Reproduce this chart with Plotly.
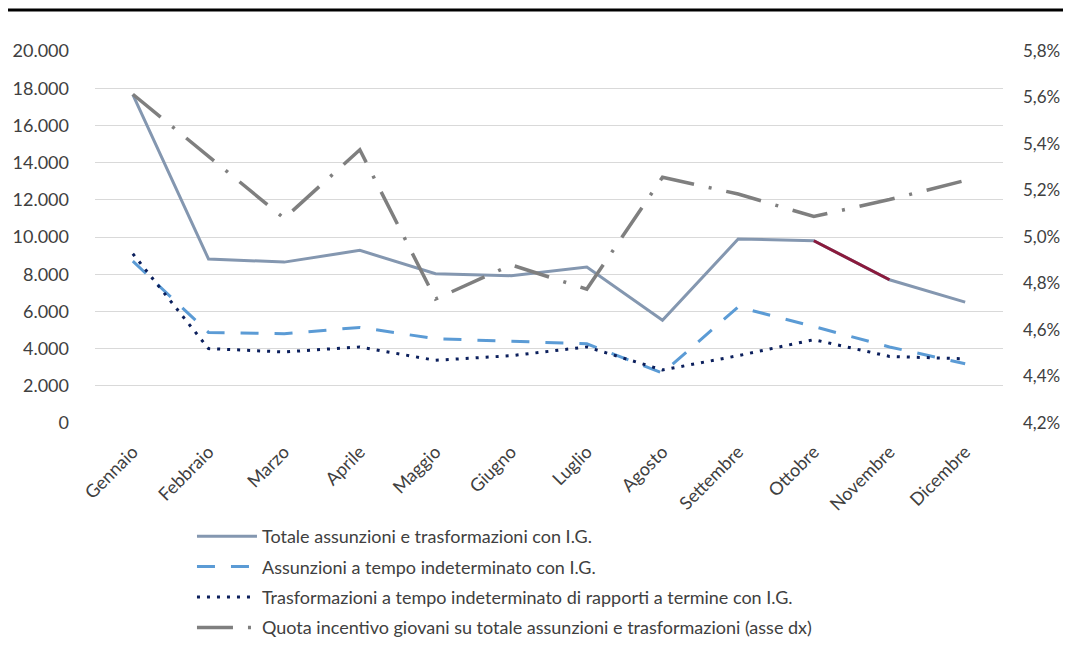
import plotly.graph_objects as go

mesi = ["Gennaio", "Febbraio", "Marzo", "Aprile", "Maggio", "Giugno", "Luglio",
        "Agosto", "Settembre", "Ottobre", "Novembre", "Dicembre"]
totale = [17650, 8820, 8650, 9280, 8030, 7920, 8390, 5520, 9890, 9800, 7700, 6500]
assunzioni = [8700, 4870, 4800, 5140, 4530, 4390, 4260, 2690, 6240, 5190, 4090, 3190]
trasformazioni = [9100, 4000, 3820, 4090, 3370, 3620, 4090, 2850, 3620, 4480, 3580, 3450]
quota = [0.05614, 0.05346, 0.0508, 0.05375, 0.04733, 0.0488, 0.04776, 0.05257,
         0.05185, 0.05088, 0.05161, 0.05243]
nomi = ["Totale assunzioni e trasformazioni con I.G.",
        "Assunzioni a tempo indeterminato con I.G.",
        "Trasformazioni a tempo indeterminato di rapporti a termine con I.G.",
        "Quota incentivo giovani su totale assunzioni e trasformazioni (asse dx)"]

FONT = "Lato"
fig = go.Figure()
fig.add_trace(go.Scatter(x=mesi, y=totale, name=nomi[0], mode="lines",
                         line=dict(color="#8497b0", width=3), legendgroup="a"))
fig.add_trace(go.Scatter(x=mesi[9:11], y=totale[9:11], mode="lines", showlegend=False,
                         line=dict(color="#8b1a3c", width=3), hoverinfo="skip"))
fig.add_trace(go.Scatter(x=mesi, y=assunzioni, name=nomi[1], mode="lines",
                         line=dict(color="#5b9bd5", width=3, dash="18px,16px"), legendgroup="b"))
fig.add_trace(go.Scatter(x=mesi, y=trasformazioni, name=nomi[2], mode="lines",
                         line=dict(color="#0b1f5c", width=3, dash="3px,7px"), legendgroup="c"))
fig.add_trace(go.Scatter(x=mesi, y=quota, name=nomi[3], mode="lines", yaxis="y2",
                         line=dict(color="#7f7f7f", width=3.5, dash="36px,15px,3px,15px"),
                         legendgroup="d"))

# the page body adds an 8px margin, so the figure is drawn 8px smaller
fig.update_layout(
    width=1063, height=640,
    margin=dict(l=87, r=68, t=43, b=225, autoexpand=False),
    paper_bgcolor="white", plot_bgcolor="white",
    separators=",.",
    font=dict(family=FONT, size=18, color="#404040"),
    xaxis=dict(type="category", range=[-0.5, 11.5], showgrid=False, showline=False,
               zeroline=False, ticks="", tickangle=-45, tickfont=dict(size=18),
               ticklabelstandoff=14),
    yaxis=dict(range=[0, 20000], dtick=2000, tickformat=",d", showgrid=True,
               gridcolor="#d9d9d9", gridwidth=1, zeroline=False, showline=False,
               ticks="", ticklabelstandoff=25),
    yaxis2=dict(range=[0.042, 0.058], dtick=0.002, tickformat=".1%", overlaying="y",
                side="right", showgrid=False, zeroline=False, showline=False,
                ticks="", ticklabelstandoff=19, tickfont=dict(size=17)),
    legend=dict(orientation="v", x=0.1068, y=-0.2554, xanchor="left", yanchor="top",
                traceorder="grouped", tracegroupgap=4, itemwidth=60,
                font=dict(size=18, color="#404040"), bgcolor="rgba(0,0,0,0)"),
    shapes=[dict(type="line", xref="paper", yref="paper", x0=-0.0958, x1=1.08,
                 y0=1.110, y1=1.110, line=dict(color="black", width=3))],
)

fig.write_html("out.html")
